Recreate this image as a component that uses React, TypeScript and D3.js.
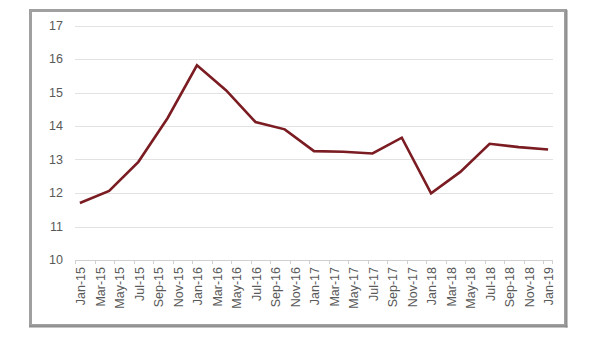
import React from "react";
import * as d3 from "d3";

const monthNames = ["Jan", "Feb", "Mar", "Apr", "May", "Jun", "Jul", "Aug", "Sep", "Oct", "Nov", "Dec"];

const tickLabels = [
  "Jan-15", "Mar-15", "May-15", "Jul-15", "Sep-15", "Nov-15",
  "Jan-16", "Mar-16", "May-16", "Jul-16", "Sep-16", "Nov-16",
  "Jan-17", "Mar-17", "May-17", "Jul-17", "Sep-17", "Nov-17",
  "Jan-18", "Mar-18", "May-18", "Jul-18", "Sep-18", "Nov-18",
  "Jan-19",
];

const dates = [
  "Jan-15", "Apr-15", "Jul-15", "Oct-15",
  "Jan-16", "Apr-16", "Jul-16", "Oct-16",
  "Jan-17", "Apr-17", "Jul-17", "Oct-17",
  "Jan-18", "Apr-18", "Jul-18", "Oct-18",
  "Jan-19",
];

const values = [
  11.70, 12.06, 12.93, 14.24,
  15.81, 15.06, 14.12, 13.90,
  13.25, 13.23, 13.18, 13.65,
  11.99, 12.63, 13.47, 13.37,
  13.30,
];

const yTicks = [10, 11, 12, 13, 14, 15, 16, 17];

const monthIndex = (s: string) => {
  const [m, y] = s.split("-");
  return (parseInt(y, 10) - 15) * 12 + monthNames.indexOf(m);
};

const FONT = "'Liberation Sans', Arial, sans-serif";
const TEXT = "#595959";

export default function App() {
  const nMonths = monthIndex(tickLabels[tickLabels.length - 1]) + 1;
  const x = d3.scaleBand<number>().domain(d3.range(nMonths)).range([75, 553]).padding(0);
  const y = d3.scaleLinear().domain([10, 17]).range([260, 25.5]);
  const cx = (s: string) => (x(monthIndex(s)) as number) + x.bandwidth() / 2;

  const line = d3
    .line<number>()
    .x((_, i) => cx(dates[i]))
    .y((v) => y(v));

  return (
    <svg
      width={600}
      height={340}
      style={{ position: "absolute", left: 0, top: 0, background: "#fff" }}
    >
      {/* frame */}
      <rect x={30.5} y={10.5} width={535} height={315} fill="#fff" stroke="#a0a0a0" strokeWidth={3} />
      <line x1={566.5} y1={10} x2={566.5} y2={327.5} stroke="#8e8e8e" strokeWidth={2} />
      <line x1={29} y1={326.5} x2={567.5} y2={326.5} stroke="#8e8e8e" strokeWidth={2} />

      {/* gridlines */}
      {yTicks.map((t) => (
        <line
          key={"g" + t}
          x1={75}
          x2={553}
          y1={Math.round(y(t)) + 0.5}
          y2={Math.round(y(t)) + 0.5}
          stroke={t === 10 ? "#d0d0d0" : "#e2e2e2"}
          strokeWidth={1}
        />
      ))}

      {/* y labels */}
      {yTicks.map((t) => (
        <text
          key={"yl" + t}
          x={63}
          y={y(t)}
          dy="0.35em"
          textAnchor="end"
          fontFamily={FONT}
          fontSize={12.5}
          fill={TEXT}
        >
          {t}
        </text>
      ))}

      {/* x ticks */}
      {tickLabels.map((l) => (
        <line
          key={"t" + l}
          x1={Math.round(x(monthIndex(l)) as number) + 0.5}
          x2={Math.round(x(monthIndex(l)) as number) + 0.5}
          y1={260}
          y2={264}
          stroke="#d0d0d0"
        />
      ))}
      <line x1={552.5} x2={552.5} y1={260} y2={264} stroke="#d0d0d0" />

      {/* x labels */}
      {tickLabels.map((l) => (
        <text
          key={"xl" + l}
          transform={`translate(${cx(l) + 1},267) rotate(-90)`}
          dy="0.35em"
          textAnchor="end"
          fontFamily={FONT}
          fontSize={12.5}
          fill={TEXT}
        >
          {l}
        </text>
      ))}

      {/* series */}
      <path
        d={line(values) || ""}
        fill="none"
        stroke="#7a1c22"
        strokeWidth={2.6}
        strokeLinejoin="miter"
      />
    </svg>
  );
}
